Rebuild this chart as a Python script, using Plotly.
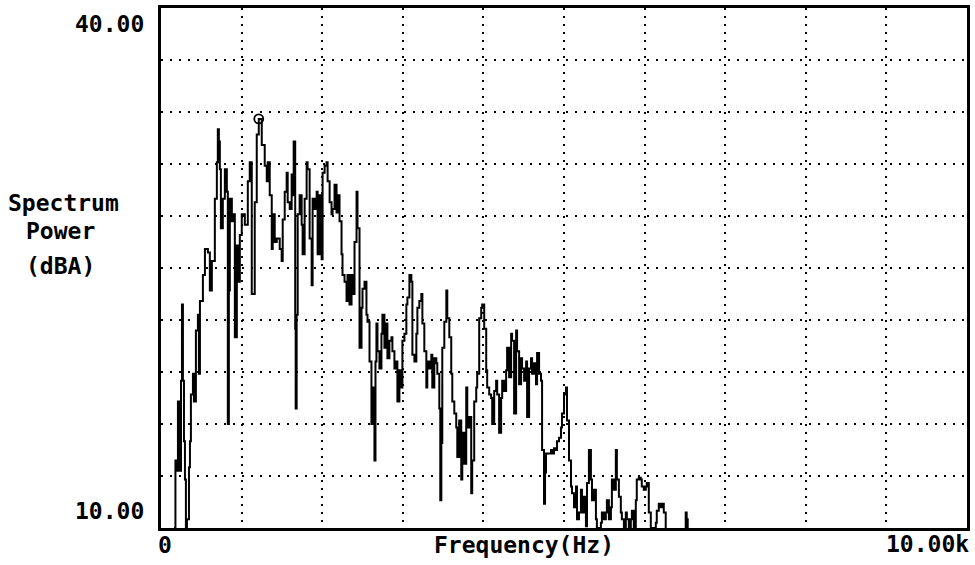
import plotly.graph_objects as go

# Frequency (Hz) and spectrum power (dBA)
freq_hz = [
    150, 173, 179, 198, 210, 235, 248, 260, 272, 285, 297, 309, 322, 347, 359, 371, 396, 408,
    433, 458, 470, 483, 520, 545, 582, 606, 631, 668, 693, 705, 718, 730, 743, 767, 792, 817,
    829, 842, 854, 879, 891, 916, 941, 953, 978, 1002, 1040, 1077, 1101, 1126, 1163, 1188,
    1213, 1250, 1287, 1312, 1324, 1349, 1374, 1386,
    1411, 1436, 1473, 1497, 1510, 1535, 1559, 1572, 1597, 1621, 1634, 1646, 1665, 1671, 1683,
    1696, 1720, 1745, 1757, 1782, 1807, 1819, 1844, 1869, 1881, 1906, 1931, 1943, 1968, 1993,
    2005, 2030, 2054, 2067, 2092, 2116, 2129, 2153, 2178, 2191, 2215, 2240, 2252, 2277, 2302,
    2314, 2339, 2364, 2376, 2401, 2426, 2438, 2463, 2488, 2500, 2525, 2549, 2562, 2587, 2611,
    2624, 2648,
    2661, 2673, 2686, 2710, 2735, 2747, 2772, 2797, 2809, 2834, 2859, 2871, 2896, 2921, 2933,
    2958, 2983, 2995, 3020, 3044, 3057, 3082, 3106, 3119, 3144, 3168, 3181, 3205, 3230, 3243,
    3267, 3292, 3304, 3329, 3354, 3366, 3391, 3416, 3428, 3453, 3465, 3478, 3490, 3515, 3540,
    3552, 3577, 3601, 3614, 3639, 3663, 3676, 3700, 3725, 3738, 3762, 3787, 3800, 3824, 3849,
    3861, 3886, 3911, 3923,
    3948, 3973, 3985, 4010, 4035, 4047, 4072, 4096, 4109, 4134, 4158, 4171, 4195, 4220, 4233,
    4257, 4282, 4294, 4319, 4344, 4356, 4381, 4406, 4418, 4443, 4468, 4480, 4505, 4530, 4542,
    4567, 4591, 4604, 4629, 4653, 4666, 4691, 4715, 4728, 4752, 4765, 4777, 4814, 4839, 4851,
    4876, 4901, 4913, 4938, 4963, 4975, 5000, 5025, 5037, 5062, 5087, 5099, 5124, 5149, 5161,
    5186,
    5210, 5223, 5248, 5272, 5285, 5309, 5334, 5347, 5371, 5396, 5408, 5433, 5458, 5470, 5495,
    5519, 5532, 5557, 5582, 5594, 5619, 5643, 5656, 5681, 5705, 5718, 5743, 5767, 5780, 5804,
    5829, 5842, 5866, 5891, 5903, 5928, 5953, 5965, 5990, 6015, 6027, 6052, 6077, 6114, 6139,
    6151, 6176, 6200, 6213, 6238, 6262, 6361, 6485, 6510, 6522, 6535, 6671,
]
power_dba = [
    9.5, 10.0, 13.9, 13.3, 17.3, 13.3, 18.5, 22.9, 18.5, 15.0, 12.8, 9.6, 10.5, 13.5, 15.0, 17.7, 18.9, 17.3,
    21.4, 22.3, 18.9, 23.1, 24.6, 26.1, 25.9, 23.7, 25.4, 29.0, 31.1, 33.0, 32.3, 30.7, 27.3, 29.0, 30.7, 29.4,
    16.0, 23.7, 29.0, 27.7, 28.1, 21.0, 26.3, 24.2, 26.9, 28.1, 27.5, 30.0, 31.1, 23.5, 28.8, 32.7,
    33.6, 32.1, 30.9, 30.0, 31.1, 29.2, 26.1, 28.1,
    26.5, 26.7, 26.1, 25.4, 27.8, 29.4, 30.5, 28.8, 28.4, 30.4, 29.2, 32.3, 21.5, 16.9, 22.3,
    28.1, 29.2, 27.5, 25.8, 29.0, 31.1, 30.7, 26.7, 24.0, 29.0, 28.4, 29.4, 25.8, 29.2, 25.5,
    30.5, 30.9, 31.1, 30.0, 28.8, 28.1, 28.4, 29.8, 28.2, 29.2, 27.7, 25.8, 24.6, 24.2, 23.1,
    24.6, 22.9, 24.6, 23.5, 26.5, 29.4, 27.3, 20.4, 22.7, 23.8, 24.2, 22.3, 21.9, 19.6, 16.0,
    18.1, 13.9,
    19.6, 21.8, 20.2, 19.2, 21.2, 22.3, 20.4, 21.8, 19.8, 20.8, 21.0, 20.2, 19.2, 19.6, 17.3,
    19.1, 18.1, 20.8, 21.2, 22.9, 23.3, 24.6, 24.2, 20.0, 19.6, 21.2, 22.7, 23.1, 23.5, 21.8,
    20.2, 18.1, 19.6, 19.2, 20.0, 18.1, 19.8, 19.5, 18.9, 16.9, 11.6, 14.9, 20.4, 21.9, 23.7,
    22.1, 21.0, 18.9, 17.3, 16.6, 15.8, 14.1, 16.2, 12.8, 15.5, 13.7, 18.1, 15.8, 16.4, 12.0,
    13.9, 17.3, 18.1, 18.9,
    22.1, 22.7, 22.9, 21.5, 19.1, 18.1, 17.7, 17.5, 16.0, 17.9, 18.5, 17.7, 15.5, 17.5, 18.5,
    17.9, 19.1, 20.4, 18.7, 21.2, 20.8, 16.6, 21.4, 20.2, 18.3, 19.8, 19.2, 18.5, 19.6, 16.4,
    19.2, 19.8, 18.9, 19.5, 18.3, 20.1, 18.9, 18.5, 14.5, 11.4, 13.2, 14.3, 14.3, 14.5, 14.3,
    14.6, 14.5, 15.0, 15.2, 15.8, 16.6, 17.7, 18.1, 16.2, 13.9, 12.4, 12.0, 11.2, 12.4, 10.5,
    10.9,
    12.2, 10.9, 11.8, 10.1, 12.6, 14.5, 12.8, 11.6, 12.2, 10.5, 9.5, 10.0, 10.3, 10.9, 10.5,
    10.9, 11.6, 10.5, 11.2, 12.8, 12.2, 14.5, 12.8, 11.8, 10.9, 10.5, 10.0, 10.9, 10.5, 9.5,
    10.5, 11.0, 9.5, 11.6, 12.8, 12.9, 12.8, 12.4, 12.2, 12.4, 12.6, 10.9, 10.0, 9.5, 10.3,
    11.0, 11.4, 11.2, 11.4, 10.9, 9.5, 9.5, 9.5, 10.9, 10.5, 9.5, 9.5,
]
peak_hz = [1213]
peak_dba = [33.6]

x_range = [0, 10000]
y_range = [10, 40]
x_grid = [0, 1000, 2000, 3000, 4000, 5000, 6000, 7000, 8000, 9000, 10000]
y_grid = [10, 13, 16, 19, 22, 25, 28, 31, 34, 37, 40]

W, H = 975, 565
L, R, T, B = 161, 6, 5, 37
pw, ph = W - L - R, H - T - B

def px(xp):
    return (xp - L) / pw

def py(yp):
    return (H - B - yp) / ph

FONT = "DejaVu Sans Mono"

fig = go.Figure()
fig.add_trace(go.Scatter(
    x=freq_hz, y=power_dba, mode="lines", line_shape="hv",
    line=dict(color="black", width=2), hoverinfo="skip", showlegend=False,
))
fig.add_trace(go.Scatter(
    x=peak_hz, y=peak_dba, mode="markers",
    marker=dict(symbol="circle-open", size=9, color="black", line=dict(width=1.8)),
    showlegend=False,
))

fig.update_xaxes(range=x_range, tickvals=x_grid, showticklabels=False, ticks="",
                 showgrid=True, gridcolor="black", gridwidth=1.6, griddash="2px,6px",
                 zeroline=False, showline=True, linecolor="black", linewidth=2.5, mirror=True)
fig.update_yaxes(range=y_range, tickvals=y_grid, showticklabels=False, ticks="",
                 showgrid=True, gridcolor="black", gridwidth=1.6, griddash="2px,7px",
                 zeroline=False, showline=True, linecolor="black", linewidth=2.5, mirror=True)

tf = dict(family=FONT, size=23, color="black")
ann = [
    dict(text="<b>40.00</b>", x=px(146), y=py(21), xanchor="right", yanchor="middle"),
    dict(text="<b>10.00</b>", x=px(146), y=py(511), xanchor="right", yanchor="middle"),
    dict(text="<b>0</b>", x=px(165), y=py(545), xanchor="center", yanchor="middle"),
    dict(text="<b>10.00k</b>", x=px(973), y=py(544), xanchor="right", yanchor="middle"),
    dict(text="<b>Frequency(Hz)</b>", x=px(525), y=py(545), xanchor="center", yanchor="middle"),
    dict(text="<b>Spectrum</b>", x=px(6), y=py(201), xanchor="left", yanchor="middle"),
    dict(text="<b>Power</b>", x=px(24), y=py(229), xanchor="left", yanchor="middle"),
    dict(text="<b>(dBA)</b>", x=px(24), y=py(264), xanchor="left", yanchor="middle"),
]
for a in ann:
    a.update(xref="paper", yref="paper", showarrow=False, font=tf)

fig.update_layout(
    width=W, height=H, margin=dict(l=L, r=R, t=T, b=B),
    paper_bgcolor="white", plot_bgcolor="white",
    annotations=ann, showlegend=False,
)

fig.write_html(
    "out.html",
    config={"displayModeBar": False},
    post_script="document.body.style.margin='0';document.body.style.overflow='hidden';",
)
